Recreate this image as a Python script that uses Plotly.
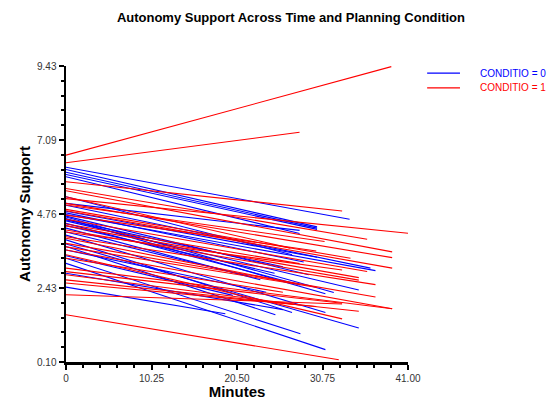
import plotly.graph_objects as go

# Condition 0 (blue): value at minute 0, last minute, value at last minute
blue_start = [6.24, 6.17, 6.08, 6.01, 5.94, 5.31, 5.04, 4.75, 4.70, 4.67, 4.62, 4.55, 4.47, 4.32, 4.10,
              3.95, 3.82, 3.74, 3.37, 3.21, 2.90, 2.46, 4.85, 4.80, 4.58, 4.40, 4.20, 3.63, 5.10, 3.45]
blue_end_min = [34.0, 30.1, 30.1, 30.1, 28.0, 27.1, 36.5, 37.1, 29.1, 32.1, 31.1, 35.1, 28.1, 23.3, 31.1,
                27.1, 35.1, 25.1, 28.1, 31.1, 26.0, 19.1, 30.1, 28.5, 26.0, 25.0, 22.0, 24.0, 28.0, 20.0]
blue_end_val = [4.60, 4.36, 4.32, 4.28, 4.15, 3.48, 3.06, 2.98, 2.85, 2.29, 2.25, 2.37, 2.53, 2.69, 1.66,
                1.66, 1.17, 1.59, 0.99, 0.49, 1.75, 1.62, 3.40, 3.25, 3.10, 2.90, 2.80, 2.30, 4.25, 2.20]

# Condition 1 (red)
red_start = [6.62, 6.38, 5.78, 5.25, 5.57, 5.50, 5.10, 4.91, 4.87, 4.39, 4.26, 4.05, 3.84, 3.63, 3.48,
             3.06, 2.95, 2.69, 2.59, 2.22, 1.59, 5.31, 4.73, 4.45, 4.60, 4.00, 3.37, 5.05, 4.20, 3.73, 2.85]
red_end_min = [39.0, 28.0, 33.1, 41.0, 36.1, 39.1, 39.1, 34.1, 39.1, 35.1, 35.1, 37.1, 37.1, 39.1, 33.1,
               39.1, 33.1, 35.1, 30.0, 33.1, 32.7, 26.9, 30.0, 28.0, 36.1, 27.0, 26.0, 31.0, 33.1, 30.1, 28.0]
red_end_val = [9.41, 7.34, 4.86, 4.16, 3.97, 3.57, 3.39, 3.37, 3.06, 2.76, 2.68, 2.54, 2.15, 1.78, 1.46,
               1.78, 1.95, 1.70, 1.85, 1.93, 0.17, 3.69, 3.60, 3.20, 2.95, 2.60, 2.30, 3.90, 3.00, 2.45, 1.90]

x_ticks = [0, 10.25, 20.50, 30.75, 41.00]
x_labels = ["0", "10.25", "20.50", "30.75", "41.00"]
y_ticks = [0.10, 2.43, 4.76, 7.09, 9.43]
y_labels = ["0.10", "2.43", "4.76", "7.09", "9.43"]
legend_names = ["CONDITIO = 0", "CONDITIO = 1"]

BLUE = "#0000FF"
RED = "#FF0000"
FONT = "Liberation Sans, Arial, sans-serif"

fig = go.Figure()

def add_group(starts, end_mins, end_vals, color):
    for s, em, ev in zip(starts, end_mins, end_vals):
        fig.add_trace(go.Scatter(
            x=[0, em], y=[s, ev], mode="lines",
            line=dict(color=color, width=1.1),
            showlegend=False, hoverinfo="skip"))

add_group(blue_start, blue_end_min, blue_end_val, BLUE)
add_group(red_start, red_end_min, red_end_val, RED)

# manual legend (paper coordinates)
for name, color, ly in zip(legend_names, [BLUE, RED], [0.976, 0.926]):
    fig.add_shape(type="line", xref="paper", yref="paper", x0=1.056, x1=1.152, y0=ly, y1=ly,
                  line=dict(color=color, width=1.1))
    fig.add_annotation(xref="paper", yref="paper", x=1.205, y=ly, xanchor="left", yanchor="middle",
                       text=name, showarrow=False, font=dict(family=FONT, size=10, color=color))

axis_font = dict(family=FONT, size=10, color="#333333")
title_font = dict(family=FONT, size=15, color="black")

fig.update_layout(
    width=550, height=400,
    margin=dict(l=66, r=142, t=66, b=38, autoexpand=False),
    paper_bgcolor="white", plot_bgcolor="white",
    title=dict(text="<b>Autonomy Support Across Time and Planning Condition</b>",
               x=0.529, xanchor="center", xref="container", y=0.9575, yanchor="middle", yref="container",
               automargin=False,
               font=dict(family=FONT, size=13, color="black")),
    showlegend=False,
)

fig.update_xaxes(
    range=[0, 41], tickvals=x_ticks, ticktext=x_labels, automargin=False,
    showgrid=False, zeroline=False, showline=True, linecolor="black", linewidth=2.5,
    ticks="outside", ticklen=5, tickwidth=2, tickcolor="black",
    minor=dict(dtick=2.05, tick0=0, ticks="outside", ticklen=3, tickwidth=2, tickcolor="black"),
    tickfont=axis_font,
    title=dict(text="<b>Minutes</b>", font=title_font, standoff=4),
)
fig.update_yaxes(
    range=[0.10, 9.43], tickvals=y_ticks, ticktext=y_labels, automargin=False,
    showgrid=False, zeroline=False, showline=True, linecolor="black", linewidth=2.5,
    ticks="outside", ticklen=5, tickwidth=2, tickcolor="black",
    minor=dict(dtick=0.4665, tick0=0.10, ticks="outside", ticklen=3, tickwidth=2, tickcolor="black"),
    tickfont=axis_font,
    title=dict(text="<b>Autonomy Support</b>", font=title_font, standoff=3),
)

# remove the default page margin so the 550x400 figure fills the window exactly
fig.write_html("out.html",
               config={"displayModeBar": False, "staticPlot": True},
               post_script="document.body.style.margin='0';document.body.style.overflow='hidden';")
